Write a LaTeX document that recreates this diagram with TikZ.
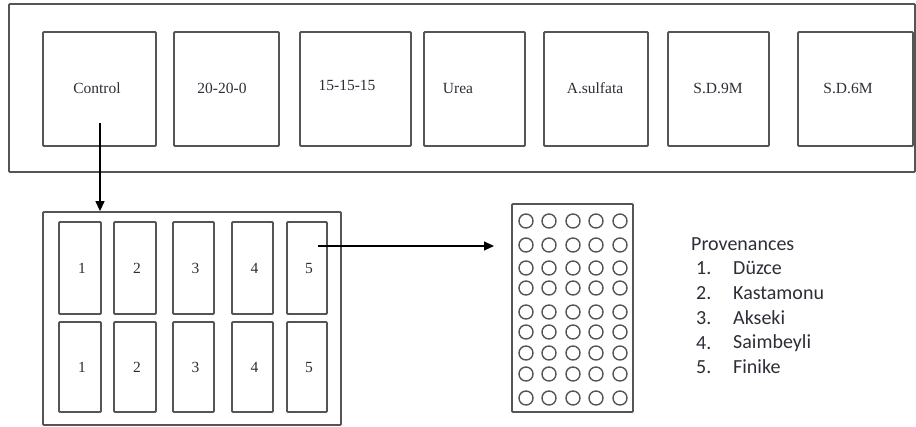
\documentclass[tikz,border=0pt]{standalone}
\usepackage{fontspec}
\setmainfont{Liberation Serif}
\newfontfamily\calfont{Carlito}
\usetikzlibrary{arrows.meta}
\definecolor{linegray}{RGB}{85,85,85}
\definecolor{txt}{RGB}{45,45,55}
\begin{document}
\begin{tikzpicture}[x=1pt,y=-1pt,
  box/.style={draw=linegray,line width=1.8pt,rounded corners=1pt,inner sep=0pt},
  lbl/.style={font=\fontsize{15.5}{18}\selectfont,text=txt,inner sep=0pt},
  prov/.style={font=\calfont\fontsize{20}{24}\selectfont,text=txt,inner sep=0pt,anchor=west},
  well/.style={draw=linegray,line width=1.4pt,circle,minimum size=14pt,inner sep=0pt},
  arr/.style={draw=black,line width=1.2pt,-{Triangle[length=10pt,width=9pt]}}]
\useasboundingbox (0,0) rectangle (916,426);
% outer top frame
\node[box,minimum width=906pt,minimum height=168pt] (frame) at (462,88) {};
% treatment boxes
\node[box,minimum width=113pt,minimum height=114pt] (control) at (99.5,89) {};
\node[box,minimum width=105pt,minimum height=114pt] (b2020) at (226.5,89) {};
\node[box,minimum width=111pt,minimum height=114pt] (b151515) at (355.5,89) {};
\node[box,minimum width=101pt,minimum height=114pt] (urea) at (474.5,89) {};
\node[box,minimum width=104pt,minimum height=114pt] (asulf) at (596,89) {};
\node[box,minimum width=101pt,minimum height=114pt] (sd9) at (718.5,89) {};
\node[box,minimum width=115pt,minimum height=114pt] (sd6) at (855.5,89) {};
\node[lbl] (tcontrol) at (97,88) {Control};
\node[lbl] (t2020) at (222,88) {20-20-0};
\node[lbl] (t151515) at (347,85) {15-15-15};
\node[lbl] (turea) at (458,88) {Urea};
\node[lbl] (tasulf) at (595,88) {A.sulfata};
\node[lbl] (tsd9) at (718,88) {S.D.9M};
\node[lbl] (tsd6) at (848,88) {S.D.6M};
% lower field box
\node[box,minimum width=298pt,minimum height=213pt] (field) at (192,318.5) {};
\foreach \i/\xa/\xb in {1/59/101,2/114/156,3/173/214,4/232/273,5/287/327}{
  \pgfmathsetmacro{\ww}{\xb-\xa}
  \pgfmathsetmacro{\xc}{(\xa+\xb)/2}
  \node[box,minimum width=\ww pt,minimum height=92pt] (t\i) at (\xc,268) {};
  \node[box,minimum width=\ww pt,minimum height=90pt] (u\i) at (\xc,367) {};
  \node[lbl] (tn\i) at ([xshift=2pt]t\i.center) {\i};
  \node[lbl] (un\i) at ([xshift=2pt]u\i.center) {\i};
}
% plate
\node[box,minimum width=121pt,minimum height=208pt] (plate) at (572.5,308) {};
\foreach \r/\yy in {1/221,2/245,3/268,4/288,5/312,6/332,7/353,8/374,9/398}{
  \foreach \c/\xx in {1/526,2/549,3/573,4/596,5/620}{
    \node[well] (w\r\c) at (\xx,\yy) {};
  }
}
% arrows
\coordinate (a1) at (100,123);
\draw[arr] (a1) -- (a1 |- field.north);
\coordinate (a2s) at (318,246);
\coordinate (a2e) at (494,246);
\draw[arr] (a2s) -- (a2e);
% provenances
\node[prov] (ptitle) at (691,244) {Provenances};
\foreach \k/\nm/\yy in {1/Düzce/268,2/Kastamonu/293,3/Akseki/318,4/Saimbeyli/343,5/Finike/367}{
  \node[prov] (pn\k) at (696,\yy) {\k.};
  \node[prov] (pl\k) at (733,\yy) {\nm};
}
\end{tikzpicture}
\end{document}
